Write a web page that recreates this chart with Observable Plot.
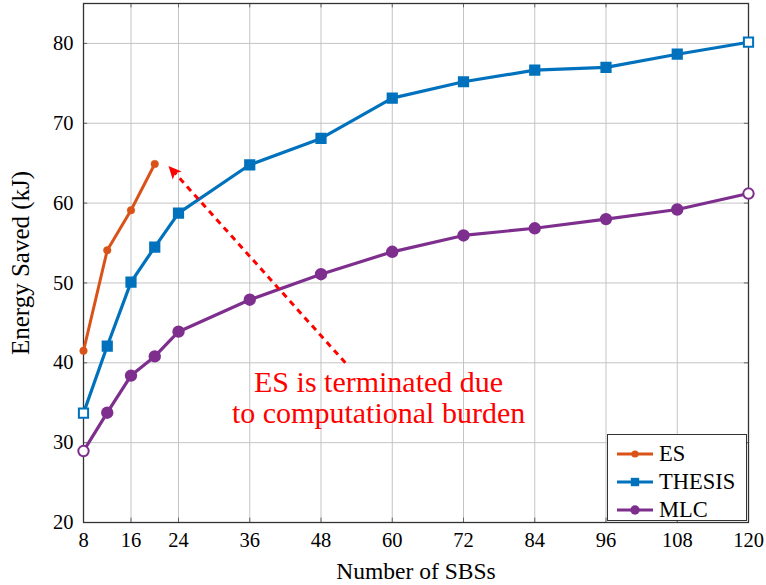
<!DOCTYPE html>
<html>
<head>
<meta charset="utf-8">
<script src="https://cdn.jsdelivr.net/npm/d3@7"></script>
<script src="https://cdn.jsdelivr.net/npm/@observablehq/plot@0.6"></script>
<style>
  body { margin: 0; background: #fff; }
  #wrap { position: relative; width: 766px; height: 585px; font-family: "Liberation Serif", "Times New Roman", serif; }
  #wrap svg text, #wrap svg tspan { font-family: "Liberation Serif", "Times New Roman", serif !important; }
  #wrap svg [aria-label="x-axis label"] { font-size: 23.5px; }
  #wrap svg [aria-label="y-axis label"] { font-size: 25px; }
  #legend { position: absolute; left: 607px; top: 434px; width: 140px; height: 87px; border: 1px solid #333;
            background: #fff; box-sizing: border-box; padding-top: 5px; }
  .row { display: flex; align-items: center; height: 28px; }
  .row svg { margin-left: 9px; margin-right: 6px; }
  .row span { font-size: 22.5px; line-height: 28px; color: #000; }
</style>
</head>
<body>
<div id="wrap"></div>
<script>
// ---- data ----
const sbs = [8, 12, 16, 20, 24, 36, 48, 60, 72, 84, 96, 108, 120];
const esSbs = [8, 12, 16, 20];
const esValues = [41.5, 54.1, 59.1, 64.9];
const thesisValues = [33.7, 42.1, 50.1, 54.5, 58.75, 64.8, 68.1, 73.15, 75.2, 76.65, 77.0, 78.65, 80.15];
const mlcValues = [28.95, 33.75, 38.4, 40.8, 43.9, 47.9, 51.1, 53.9, 55.95, 56.85, 58.0, 59.2, 61.2];
const xTicks = [8, 16, 24, 36, 48, 60, 72, 84, 96, 108, 120];
const yTicks = [20, 30, 40, 50, 60, 70, 80];
const seriesNames = ["ES", "THESIS", "MLC"];
const seriesColors = ["#D95319", "#0072BD", "#7E2F8E"];
const seriesSymbols = ["circle", "square", "circle"];
const annotationLines = ["ES is terminated due", "to computational burden"];
const arrowFrom = {x: 52.1, y: 40.0};
const arrowTo = {x: 22.4, y: 64.6};
const annotationAnchor = {x: 57.7, y: [37.6, 33.7]};

// ---- build table ----
const rows = [];
esSbs.forEach((x, i) => rows.push({series: "ES", x, y: esValues[i]}));
sbs.forEach((x, i) => rows.push({series: "THESIS", x, y: thesisValues[i]}));
sbs.forEach((x, i) => rows.push({series: "MLC", x, y: mlcValues[i]}));
const byName = n => rows.filter(r => r.series === n);
const xDomain = [8, 120];
const yDomain = [20, 85];
const edge = d => d.x === xDomain[0] || d.x === xDomain[1];
const annoRows = annotationLines.map((t, i) => ({text: t, x: annotationAnchor.x, y: annotationAnchor.y[i]}));

const tickLenY = 0.55; // in y units (~4px)
const tickLenX = 0.7;  // in x units (~4px)

const chart = Plot.plot({
  width: 766,
  height: 585,
  marginLeft: 83,
  marginRight: 18,
  marginTop: 3,
  marginBottom: 63,
  style: {fontSize: "20.5px", color: "#000", background: "#fff"},
  x: {domain: xDomain},
  y: {domain: yDomain},
  color: {type: "identity"},
  marks: [
    Plot.gridX(xTicks, {stroke: "#c4c4c4", strokeOpacity: 1, strokeWidth: 1}),
    Plot.gridY(yTicks, {stroke: "#c4c4c4", strokeOpacity: 1, strokeWidth: 1}),
    Plot.ruleX(xTicks, {y1: yDomain[0], y2: yDomain[0] + tickLenY, stroke: "#666"}),
    Plot.ruleX(xTicks, {y1: yDomain[1], y2: yDomain[1] - tickLenY, stroke: "#666"}),
    Plot.ruleY(yTicks, {x1: xDomain[0], x2: xDomain[0] + tickLenX, stroke: "#666"}),
    Plot.ruleY(yTicks, {x1: xDomain[1], x2: xDomain[1] - tickLenX, stroke: "#666"}),
    Plot.frame({stroke: "#333", strokeWidth: 1.3}),
    Plot.axisX(xTicks, {tickSize: 0, tickPadding: 10, label: "Number of SBSs", labelArrow: "none", labelAnchor: "center", labelOffset: 56}),
    Plot.axisY(yTicks, {tickSize: 0, tickPadding: 10, label: "Energy Saved (kJ)", labelArrow: "none", labelAnchor: "center", labelOffset: 72}),
    Plot.line(byName("ES"), {x: "x", y: "y", stroke: seriesColors[0], strokeWidth: 3}),
    Plot.dot(byName("ES"), {x: "x", y: "y", r: 3.8, fill: seriesColors[0], stroke: seriesColors[0], strokeWidth: 0.5}),
    Plot.line(byName("THESIS"), {x: "x", y: "y", stroke: seriesColors[1], strokeWidth: 3.2}),
    Plot.dot(byName("THESIS"), {x: "x", y: "y", symbol: "square", r: 5.2, fill: d => edge(d) ? "white" : seriesColors[1], stroke: seriesColors[1], strokeWidth: 2}),
    Plot.line(byName("MLC"), {x: "x", y: "y", stroke: seriesColors[2], strokeWidth: 3.2}),
    Plot.dot(byName("MLC"), {x: "x", y: "y", r: 5.2, fill: d => edge(d) ? "white" : seriesColors[2], stroke: seriesColors[2], strokeWidth: 2}),
    Plot.link([0], {x1: arrowFrom.x, y1: arrowFrom.y, x2: arrowTo.x, y2: arrowTo.y, stroke: "#ff0000", strokeWidth: 3, strokeDasharray: "6,5"}),
    Plot.text(annoRows, {x: "x", y: "y", text: "text", fill: "#ff0000", fontSize: 30})
  ]
});

document.getElementById("wrap").appendChild(chart);

// filled arrow head via the chart's scales
(function () {
  const sx = chart.scale("x"), sy = chart.scale("y");
  const x1 = sx.apply(arrowFrom.x), y1 = sy.apply(arrowFrom.y);
  const x2 = sx.apply(arrowTo.x), y2 = sy.apply(arrowTo.y);
  const ang = Math.atan2(y2 - y1, x2 - x1);
  const L = 13, W = 6;
  const bx = x2 - L * Math.cos(ang), by = y2 - L * Math.sin(ang);
  const px = -Math.sin(ang), py = Math.cos(ang);
  const pts = [[x2, y2], [bx + W * px, by + W * py], [bx + 3 * Math.cos(ang), by + 3 * Math.sin(ang)], [bx - W * px, by - W * py]];
  d3.select(chart).append("path")
    .attr("d", "M" + pts.map(p => p.join(",")).join("L") + "Z")
    .attr("fill", "#ff0000");
})();

// legend
const legend = d3.select("#wrap").append("div").attr("id", "legend");
seriesNames.forEach((name, i) => {
  const row = legend.append("div").attr("class", "row");
  const s = row.append("svg").attr("width", 36).attr("height", 14);
  s.append("line").attr("x1", 0).attr("x2", 36).attr("y1", 7).attr("y2", 7)
    .attr("stroke", seriesColors[i]).attr("stroke-width", 3);
  const sym = d3.symbol(seriesSymbols[i] === "square" ? d3.symbolSquare : d3.symbolCircle, i === 0 ? 40 : 70);
  s.append("path").attr("d", sym()).attr("transform", "translate(18,7)")
    .attr("fill", seriesColors[i]);
  row.append("span").text(name);
});
</script>
</body>
</html>
